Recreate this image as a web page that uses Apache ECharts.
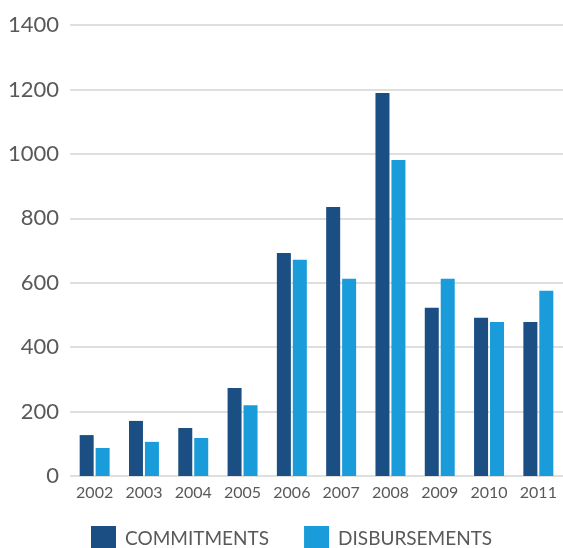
<!DOCTYPE html>
<html>
<head>
<meta charset="utf-8">
<script src="https://cdn.jsdelivr.net/npm/echarts@6/dist/echarts.min.js"></script>
<style>
html, body { margin: 0; padding: 0; background: #fff; }
#chart { width: 563px; height: 548px; }
</style>
</head>
<body>
<div id="chart"></div>
<script>
// data
const years = ['2002', '2003', '2004', '2005', '2006', '2007', '2008', '2009', '2010', '2011']
const commitments = [127, 171, 149, 273, 692, 835, 1189, 522, 491, 478]
const disbursements = [87, 106, 118, 220, 671, 612, 981, 612, 478, 575]
const yTicks = [0, 200, 400, 600, 800, 1000, 1200, 1400]

const darkBlue = '#1b4f83'
const lightBlue = '#199cd9'
const labelColor = '#595959'

const chart = echarts.init(document.getElementById('chart'))

chart.setOption({
    animation: false,
    textStyle: { fontFamily: 'Lato' },
    grid: {
        left: 70,
        right: -7,
        top: 25,
        bottom: 72
    },
    legend: {
        left: 86,
        top: 521,
        itemWidth: 25,
        itemHeight: 25,
        itemGap: 35,
        icon: 'rect',
        textStyle: {
            color: labelColor,
            fontSize: 19,
            padding: [0, 0, 0, 4]
        },
        data: ['COMMITMENTS', 'DISBURSEMENTS']
    },
    xAxis: {
        type: 'category',
        data: years,
        axisLine: { show: false },
        axisTick: { show: false },
        axisLabel: {
            color: labelColor,
            fontSize: 16,
            margin: 9
        }
    },
    yAxis: {
        type: 'value',
        min: yTicks[0],
        max: yTicks[yTicks.length - 1],
        interval: 200,
        axisLine: { show: false },
        axisTick: { show: false },
        axisLabel: {
            color: labelColor,
            fontSize: 22,
            margin: 11,
            formatter: v => String(v)
        },
        splitLine: {
            lineStyle: { color: '#d4d4d4', width: 1.5 }
        }
    },
    series: [
        {
            name: 'COMMITMENTS',
            type: 'bar',
            data: commitments,
            barWidth: 14,
            barGap: '14%',
            itemStyle: { color: darkBlue }
        },
        {
            name: 'DISBURSEMENTS',
            type: 'bar',
            data: disbursements,
            barWidth: 14,
            barGap: '14%',
            itemStyle: { color: lightBlue }
        }
    ]
})
</script>
</body>
</html>
